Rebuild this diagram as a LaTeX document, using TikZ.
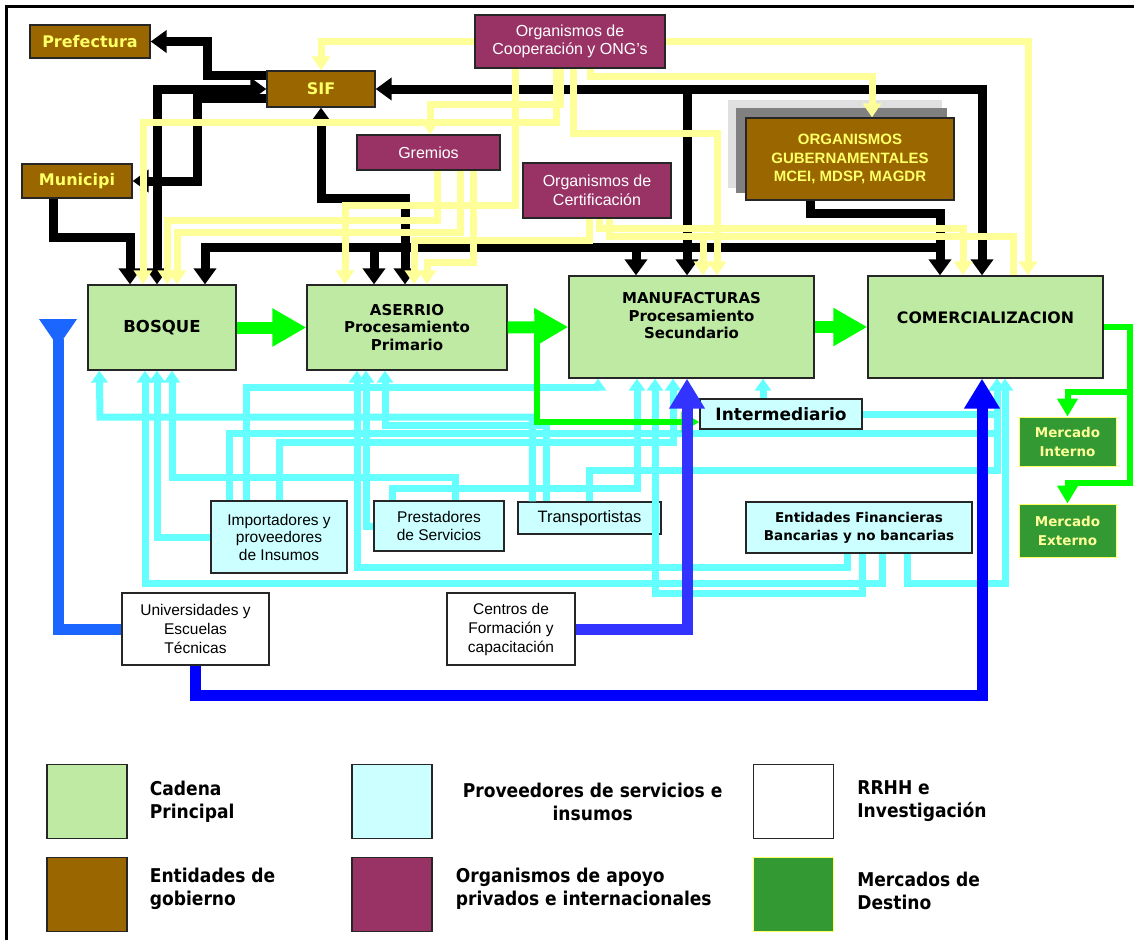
\documentclass[tikz,border=0pt]{standalone}
\usepackage{fontspec}
\setmainfont{DejaVu Sans}
\newfontfamily\arialf{Liberation Sans}
\newfontfamily\condf{DejaVu Sans Condensed}
\usetikzlibrary{arrows.meta,positioning,backgrounds}

\definecolor{chaingreen}{RGB}{190,234,164}
\definecolor{svccyan}{RGB}{204,255,255}
\definecolor{govbrown}{RGB}{153,102,0}
\definecolor{govtext}{RGB}{255,255,102}
\definecolor{orgpurple}{RGB}{153,51,102}
\definecolor{mktgreen}{RGB}{51,153,51}
\definecolor{mkttext}{RGB}{255,255,153}
\definecolor{linkyellow}{RGB}{255,255,153}
\definecolor{linkcyan}{RGB}{102,255,255}
\definecolor{linkgreen}{RGB}{0,255,0}
\definecolor{univblue}{RGB}{26,102,255}
\definecolor{formblue}{RGB}{51,51,255}
\definecolor{deepblue}{RGB}{0,0,255}

\begin{document}
\begin{tikzpicture}[
    x=1pt,y=-1pt,
    box/.style={rectangle,draw=black!85,line width=1.3pt,inner sep=0pt,align=center},
    chain/.style={box,fill=chaingreen,font=\bfseries\fontsize{15}{17.5}\selectfont},
    gov/.style={box,fill=govbrown,text=govtext,font=\bfseries\fontsize{16}{19}\selectfont},
    org/.style={box,fill=orgpurple,text=white,font=\arialf\fontsize{16}{18.5}\selectfont},
    svc/.style={box,fill=svccyan,font=\arialf\fontsize{15.5}{17.5}\selectfont},
    rrhh/.style={box,fill=white,font=\arialf\fontsize{15.5}{19}\selectfont},
    mkt/.style={box,draw=govtext,line width=1pt,fill=mktgreen,text=mkttext,font=\bfseries\fontsize{13.5}{19}\selectfont},
    legbox/.style={box,minimum width=80pt,minimum height=74pt},
    legtext/.style={font=\condf\bfseries\fontsize{19}{23}\selectfont,align=left,inner sep=0pt},
    blk/.style={draw=black,line width=9pt,-{Triangle[length=16pt,width=22pt]}},
    blkboth/.style={{Triangle[length=16pt,width=22pt]}-{Triangle[length=16pt,width=22pt]}},
    ylw/.style={draw=linkyellow,line width=7pt,-{Triangle[length=14pt,width=18pt]}},
    cy/.style={draw=linkcyan,line width=7pt,-{Triangle[length=12pt,width=16pt]}},
    grn/.style={draw=linkgreen,line width=12pt,-{Triangle[length=34pt,width=36pt]}},
    grnthin/.style={draw=linkgreen,line width=6pt,-{Triangle[length=18pt,width=20pt]}},
    blu/.style={line width=11pt,-{Triangle[length=30pt,width=34pt]}}
]
\useasboundingbox (0,0) rectangle (1134,940);

% government and support bodies
\node[gov,minimum width=120pt,minimum height=33pt] (pref) at (90,41.5) {Prefectura};
\node[gov,minimum width=108pt,minimum height=36pt] (sif) at (321,89) {SIF};
\node[gov,minimum width=110pt,minimum height=34pt] (muni) at (77,181) {Municipi};
\node[org,minimum width=190pt,minimum height=53pt] (coop) at (570,41.5) {Organismos de\\Cooperación y ONG’s};
\node[org,minimum width=143pt,minimum height=35pt] (grem) at (428.5,152.5) {Gremios};
\node[org,minimum width=148pt,minimum height=55pt] (cert) at (597,190.5) {Organismos de\\Certificación};
\node[gov,minimum width=208pt,minimum height=82pt,font=\arialf\bfseries\fontsize{15}{18.5}\selectfont] (gub) at (850,159) {ORGANISMOS\\GUBERNAMENTALES\\MCEI, MDSP, MAGDR};

% main chain
\node[chain,minimum width=148pt,minimum height=85pt,font=\bfseries\fontsize{16.5}{19}\selectfont] (bosque) at (162,327.5) {BOSQUE};
\node[chain,minimum width=200pt,minimum height=85pt] (aser) at (407,327.5) {ASERRIO\\Procesamiento\\Primario};
\node[chain,minimum width=245pt,minimum height=102pt] (manu) at (691.5,327) {};
\node[font=\bfseries\fontsize{15}{17.5}\selectfont,align=center] (manut) at ([yshift=11pt]manu.center) {MANUFACTURAS\\Procesamiento\\Secundario};
\node[chain,minimum width=235pt,minimum height=102pt] (comer) at (985.5,327) {};
\node[font=\bfseries\fontsize{15.8}{17.5}\selectfont] (comert) at ([yshift=9pt]comer.center) {COMERCIALIZACION};

% services and inputs
\node[svc,minimum width=162pt,minimum height=30pt,font=\bfseries\fontsize{17}{20}\selectfont] (inter) at (781,414) {Intermediario};
\node[svc,minimum width=136pt,minimum height=72pt] (impo) at (279,537) {Importadores y\\proveedores\\de Insumos};
\node[svc,minimum width=130pt,minimum height=50pt] (prest) at (439,526) {Prestadores\\de Servicios};
\node[svc,minimum width=143pt,minimum height=32pt,font=\arialf\fontsize{16.5}{18}\selectfont] (trans) at (589.5,518) {Transportistas};
\node[svc,minimum width=226pt,minimum height=51pt,font=\bfseries\fontsize{13.5}{18}\selectfont] (ent) at (859,527.5) {Entidades Financieras\\Bancarias y no bancarias};

% markets
\node[mkt,minimum width=97pt,minimum height=49pt] (mint) at (1067.5,441.5) {Mercado\\Interno};
\node[mkt,minimum width=97pt,minimum height=53pt] (mext) at (1067.5,530.5) {Mercado\\Externo};

% training and research
\node[rrhh,minimum width=147pt,minimum height=72pt] (univ) at (195.5,629) {Universidades y\\Escuelas\\Técnicas};
\node[rrhh,minimum width=128pt,minimum height=72pt] (cent) at (511,629) {Centros de\\Formación y\\capacitación};

% legend
\node[legbox,fill=chaingreen] (lgchain) at (87,801.5) {};
\node[legtext,right=22pt of lgchain] (ltchain) {Cadena\\Principal};
\node[legbox,fill=svccyan] (lgsvc) at (392,801.5) {};
\node[legtext,align=center,right=30pt of lgsvc] (ltsvc) {Proveedores de servicios e\\insumos};
\node[legbox,fill=white] (lgrrhh) at (793.5,801.5) {};
\node[legtext,right=23pt of lgrrhh] (ltrrhh) {RRHH e\\Investigación};
\node[legbox,fill=govbrown] (lggov) at (87,894.5) {};
\node[legtext,right=22pt of lggov,yshift=6pt] (ltgov) {Entidades de\\gobierno};
\node[legbox,fill=orgpurple] (lgorg) at (392,894.5) {};
\node[legtext,right=23pt of lgorg,yshift=6pt] (ltorg) {Organismos de apoyo\\privados e internacionales};
\node[legbox,fill=mktgreen,draw=govtext] (lgmkt) at (793.5,894.5) {};
\node[legtext,right=23pt of lgmkt,yshift=4pt] (ltmkt) {Mercados de\\Destino};

% junctions
\coordinate (kman) at (687,89);
\coordinate (kbar) at (940,247);
\coordinate (kas) at (374,247);
\coordinate (kmf) at (636,247);
\coordinate (gsplit) at (537,327);
\coordinate (gmk) at (1130,392);
\coordinate (uvtop) at (58,319);

% government links
\draw[blk] ([yshift=14pt]sif.west) -| (207,41.5) -- (pref.east);
\draw[blk,blkboth] (sif.west) -| ([xshift=-5pt]bosque.north);
\draw[blk] ([yshift=-9pt]sif.west) -| (197,181) -- (muni.east);
\draw[blk] ([xshift=-24pt]muni.south) |- (130,237) -- ([xshift=-32pt]bosque.north);
\draw[blk,blkboth] (sif.east) -| ([xshift=-3.5pt]comer.north);
\draw[blk] (kman) -- ([xshift=-4.5pt]manu.north);
\draw[blk,blkboth] (sif.south) |- (405,198) -- ([xshift=-2pt]aser.north);
\draw[blk] ([xshift=-40pt]gub.south) |- (940,213) -- ([xshift=-45.5pt]comer.north);
\draw[blk] (kbar) -| ([xshift=43pt]bosque.north);
\draw[blk] (kas) -- ([xshift=-33pt]aser.north);
\draw[blk] (kmf) -- ([xshift=-55.5pt]manu.north);

% cooperation, guilds and certification
\draw[ylw] (coop.west) -| (sif.north);
\draw[ylw] (coop.east) -| ([xshift=42.5pt]comer.north);
\draw[ylw] ([xshift=20pt]coop.south) |- (872,76) -- ([xshift=22pt]gub.north);
\draw[ylw] ([xshift=3pt]coop.south) |- (717,133) -- ([xshift=25.5pt]manu.north);
\draw[ylw] ([xshift=-14pt]coop.south) |- (143,122) -- ([xshift=-19pt]bosque.north);
\draw[ylw] ([xshift=-10pt]coop.south) |- (430,104) -- ([xshift=1.5pt]grem.north);
\draw[ylw] ([xshift=-55pt]coop.south) |- (345,205) -- ([xshift=-62pt]aser.north);
\draw[ylw] ([xshift=8.5pt]grem.south) |- (167,220) -- ([xshift=5pt]bosque.north);
\draw[ylw] ([xshift=31.5pt]grem.south) |- (177,232) -- ([xshift=15pt]bosque.north);
\draw[ylw] ([xshift=44.5pt]grem.south) |- (427,262) -- ([xshift=20pt]aser.north);
\draw[ylw] ([xshift=-8pt]cert.south) |- (414,240) -- ([xshift=7pt]aser.north);
\draw[ylw] ([xshift=2pt]cert.south) |- (963,228) -- ([xshift=-22.5pt]comer.north);
\draw[ylw] ([xshift=12pt]cert.south) |- (703,236) -- ([xshift=11.5pt]manu.north);
\draw[ylw,-] ([xshift=12pt]cert.south) |- (1013,236) -- ([xshift=27.5pt]comer.north);

% services and inputs
\draw[cy] (impo.west) -| ([xshift=-5pt]bosque.south);
\draw[cy] ([xshift=19pt]impo.north west) |- (997,433) -- ([xshift=11.5pt]comer.south);
\draw[cy] ([xshift=36pt]impo.north west) |- (598,387) -- ([xshift=-93.5pt]manu.south);
\draw[cy] ([xshift=69pt]impo.north west) |- (673,442) -- ([xshift=-18.5pt]manu.south);
\draw[cy] ([xshift=15pt]trans.north west) |- (100,417) -- ([xshift=12pt]bosque.south west);
\draw[cy] ([xshift=29pt]trans.north west) |- (385,425) -- ([xshift=-22pt]aser.south);
\draw[cy] ([xshift=72pt]trans.north west) |- (997,470) -- ([xshift=11.5pt]comer.south);
\draw[cy] ([xshift=19pt]prest.north west) |- (637,488) -- ([xshift=-54.5pt]manu.south);
\draw[cy] ([xshift=82pt]prest.north west) |- (172,477) -- ([xshift=10pt]bosque.south);
\draw[cy] (prest.west) -| ([xshift=-41pt]aser.south);
\draw[cy] ([xshift=137pt]ent.south west) |- (145,583) -- ([xshift=-17pt]bosque.south);
\draw[cy] ([xshift=102pt]ent.south west) |- (357,567) -- ([xshift=-50pt]aser.south);
\draw[cy] ([xshift=162pt]ent.south west) |- (1005,583) -- ([xshift=19.5pt]comer.south);
\draw[cy] ([xshift=117pt]ent.south west) |- (655,593) -- ([xshift=-36.5pt]manu.south);
\draw[cy] ([xshift=-18pt]inter.north) -- ([xshift=71.5pt]manu.south);
\draw[cy] (inter.east) -| ([xshift=11.5pt]comer.south);

% main chain and markets
\draw[grnthin] (gsplit) |- ([yshift=-8pt]inter.west);
\draw[grnthin] (comer.east) -| (1130,483) -| (mext.north);
\draw[grnthin] (gmk) -| (mint.north);
\draw[grn] (bosque.east) -- (aser.west);
\draw[grn] (aser.east) -- (manu.west);
\draw[grn] (manu.east) -- (comer.west);

% training links
\draw[blu,draw=univblue,-{Triangle[reversed,length=28pt,width=36pt]}] (univ.west) -| (uvtop);
\draw[blu,draw=deepblue] (univ.south) |- (982,695) -- ([xshift=-3.5pt]comer.south);
\draw[blu,draw=formblue] (cent.east) -| ([xshift=-4.5pt]manu.south);

% frame and shadow of the ministries box
\begin{scope}[on background layer]
\fill[white] (0,0) rectangle (1134,940);
\fill[black!12] ([xshift=-17pt,yshift=17pt]gub.north west) rectangle ([xshift=-13pt,yshift=13pt]gub.south east);
\fill[black!50] ([xshift=-9pt,yshift=9pt]gub.north west) rectangle ([xshift=-8pt,yshift=8pt]gub.south east);
\end{scope}
\draw[line width=3pt] (6.5,940) -- (6.5,6.5) -- (1134,6.5);

\end{tikzpicture}
\end{document}
